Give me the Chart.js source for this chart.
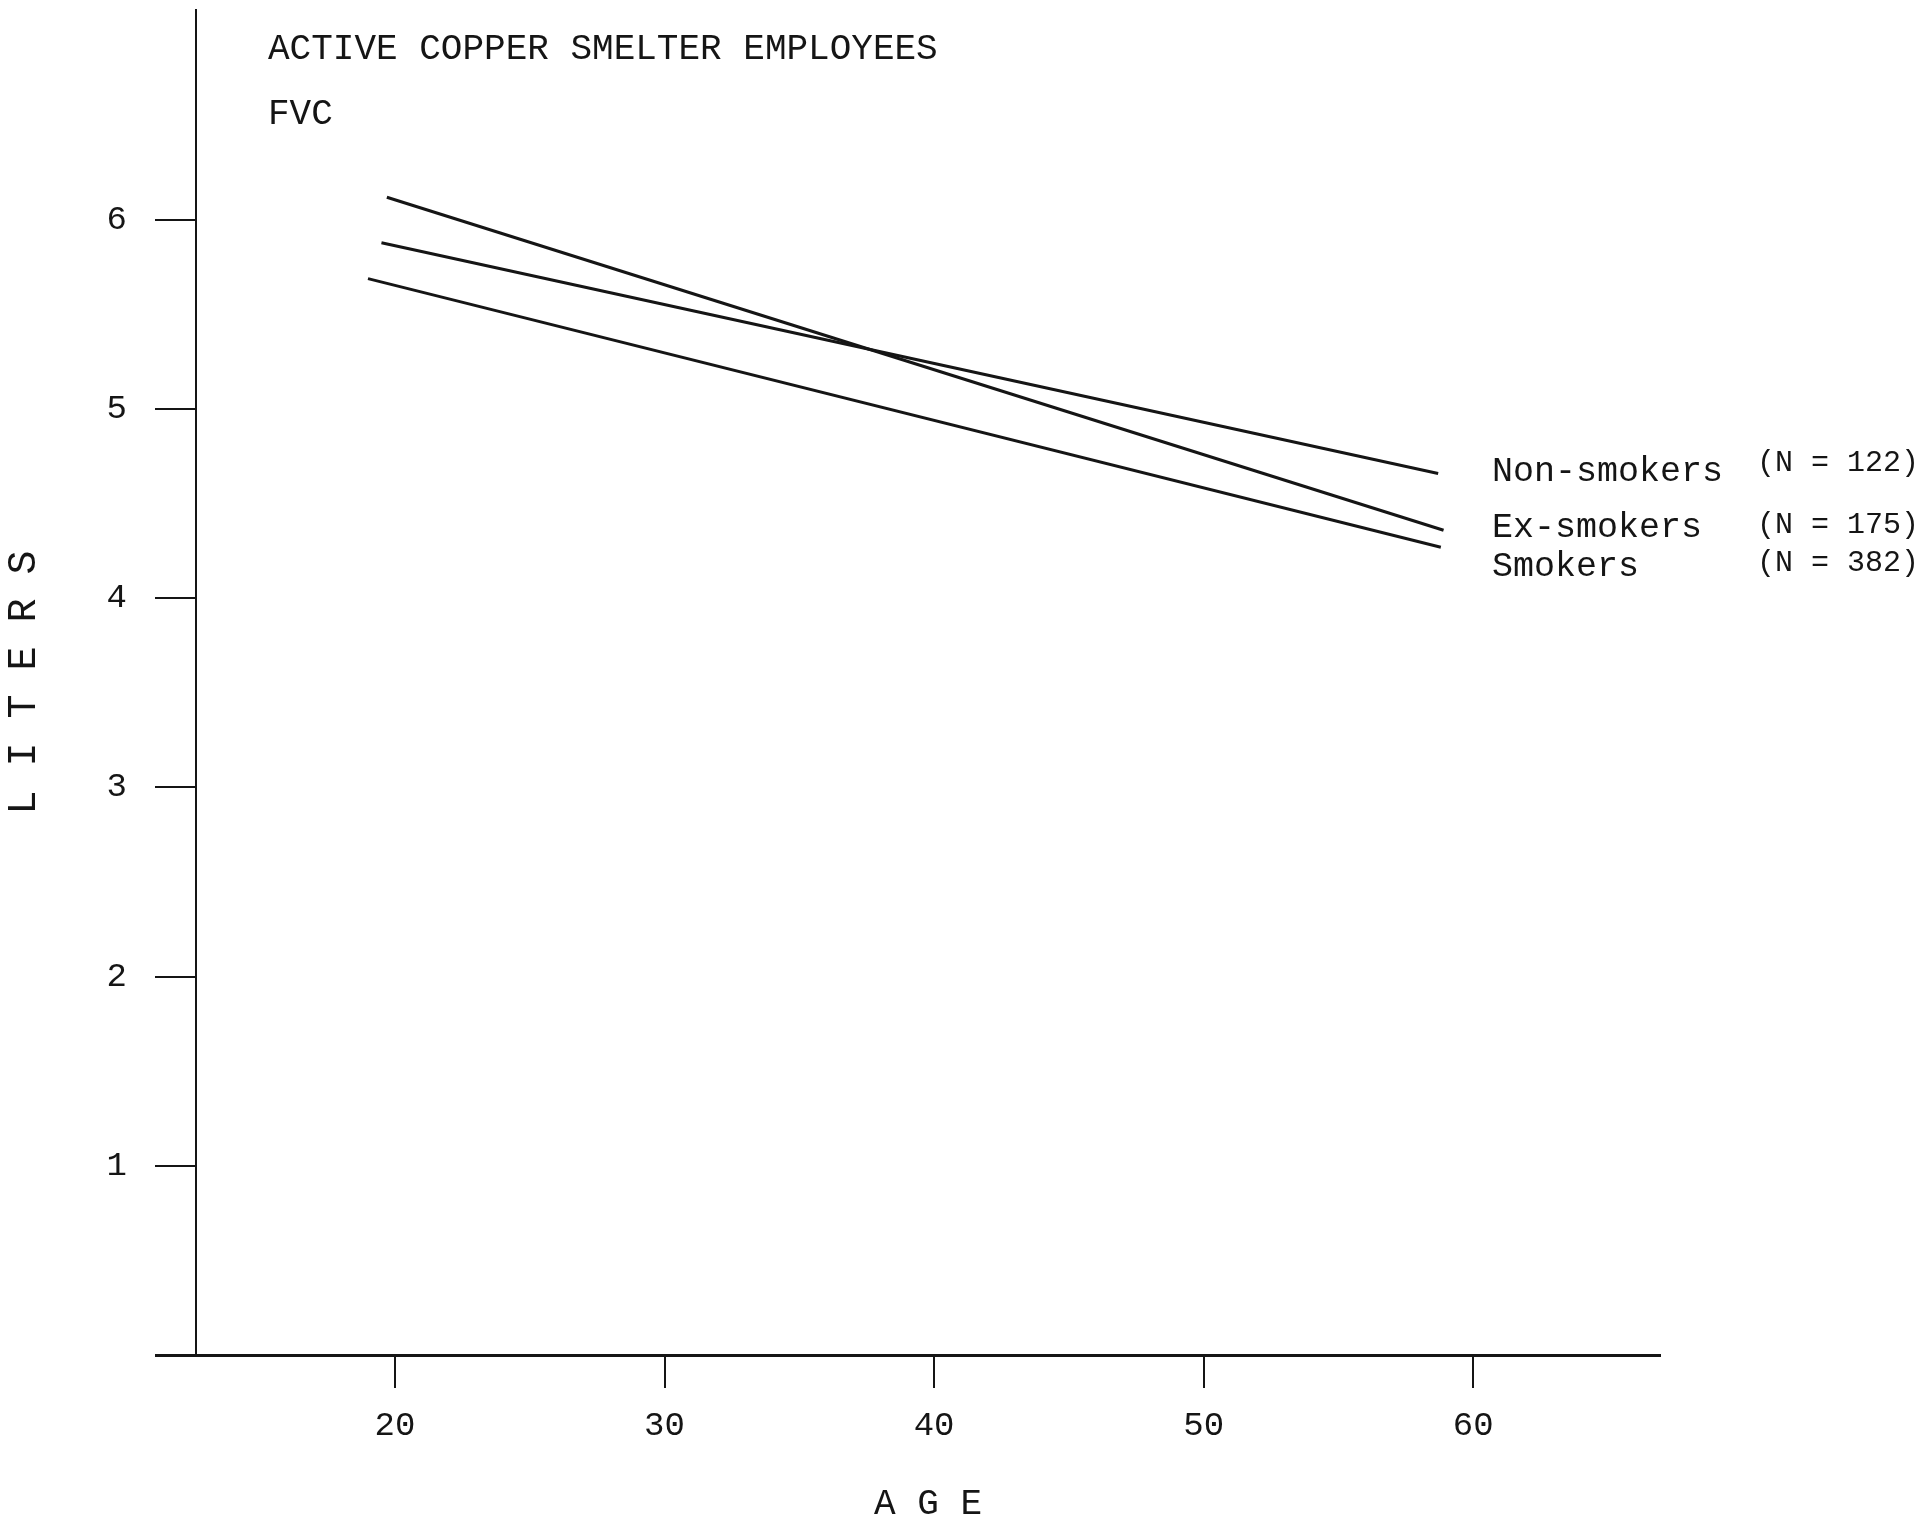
<!DOCTYPE html>
<html>
<head>
<meta charset="utf-8">
<title>Active copper smelter employees - FVC</title>
<script src="https://cdn.jsdelivr.net/npm/chart.js@4.4.1/dist/chart.umd.min.js"></script>
<style>
    body { margin: 0; background: #fff; }
    canvas { display: block; }
</style>
</head>
<body>
<canvas id="fvcChart" width="1925" height="1522"></canvas>
<script>
// regression lines, start and end age for each group
const groups = ['Non-smokers', 'Ex-smokers', 'Smokers'],
    counts = ['(N = 122)', '(N = 175)', '(N = 382)'],
    nonSmokerAge = [19.5, 58.7],
    nonSmokerFvc = [5.88, 4.66],
    exSmokerAge = [19.7, 58.9],
    exSmokerFvc = [6.12, 4.36],
    smokerAge = [19.0, 58.8],
    smokerFvc = [5.69, 4.27],

    ageTicks = [20, 30, 40, 50, 60],
    literTicks = [0, 1, 2, 3, 4, 5, 6];

const ink = '#151515',
    mono = '"Liberation Mono", "DejaVu Sans Mono", monospace';

function points(ages, values) {
    return ages.map((a, i) => ({ x: a, y: values[i] }));
}

// heading and line labels
const notes = {
    id: 'notes',
    afterDraw(chart) {
        const c = chart.ctx;
        c.save();
        c.fillStyle = ink;
        c.textBaseline = 'middle';
        c.textAlign = 'left';
        c.font = '36px ' + mono;
        c.fillText('ACTIVE COPPER SMELTER EMPLOYEES', 268, 49);
        c.fillText('FVC', 268, 114);

        const nameY = [472, 528, 567],
            countY = [463, 525, 563];
        groups.forEach((g, i) => {
            c.font = '35px ' + mono;
            c.fillText(g, 1492, nameY[i]);
            c.font = '30px ' + mono;
            c.fillText(counts[i], 1757, countY[i]);
        });
        c.restore();
    }
};

const ctx = document.getElementById('fvcChart'),
    fvcChart = new Chart(ctx, {
        type: 'line',
        data: {
            datasets: [
                { label: groups[0], data: points(nonSmokerAge, nonSmokerFvc) },
                { label: groups[1], data: points(exSmokerAge, exSmokerFvc) },
                { label: groups[2], data: points(smokerAge, smokerFvc) }
            ]
        },
        options: {
            responsive: false,
            animation: false,
            layout: { padding: { top: 10, right: 265, left: 0, bottom: 0 } },
            elements: {
                line: { borderColor: ink, borderWidth: 3, tension: 0 },
                point: { radius: 0 }
            },
            plugins: {
                legend: { display: false },
                tooltip: { enabled: false }
            },
            scales: {
                x: {
                    type: 'linear',
                    min: 12.62,
                    max: 66.93,
                    afterBuildTicks: scale => { scale.ticks = ageTicks.map(v => ({ value: v })); },
                    afterFit: scale => {
                        scale.height = 167;
                        scale.paddingLeft = 0;
                        scale.paddingRight = 0;
                    },
                    border: { display: true, color: ink, width: 3 },
                    grid: { drawOnChartArea: false, drawTicks: true, tickLength: 33, color: ink, lineWidth: 2 },
                    ticks: { color: ink, font: { family: mono, size: 34 }, padding: 18, maxRotation: 0 },
                    title: {
                        display: true,
                        text: 'A G E',
                        color: ink,
                        font: { family: mono, size: 36, lineHeight: 1 },
                        padding: { top: 0, bottom: 0 }
                    }
                },
                y: {
                    min: 0,
                    max: 7.11,
                    afterBuildTicks: scale => { scale.ticks = literTicks.map(v => ({ value: v })); },
                    afterFit: scale => {
                        scale.width = 196;
                        scale.paddingTop = 0;
                        scale.paddingBottom = 0;
                    },
                    border: { display: true, color: ink, width: 2 },
                    grid: {
                        drawOnChartArea: false,
                        drawTicks: true,
                        tickLength: 41,
                        color: ink,
                        lineWidth: c => c.tick && c.tick.value === 0 ? 3 : 2
                    },
                    ticks: {
                        color: ink,
                        font: { family: mono, size: 34 },
                        padding: 28,
                        callback: v => v === 0 ? '' : v
                    },
                    title: {
                        display: true,
                        text: 'L I T E R S',
                        color: ink,
                        font: { family: mono, size: 40, lineHeight: 1.2 },
                        padding: { top: 0, bottom: 0 }
                    }
                }
            }
        },
        plugins: [notes]
    });
</script>
</body>
</html>
